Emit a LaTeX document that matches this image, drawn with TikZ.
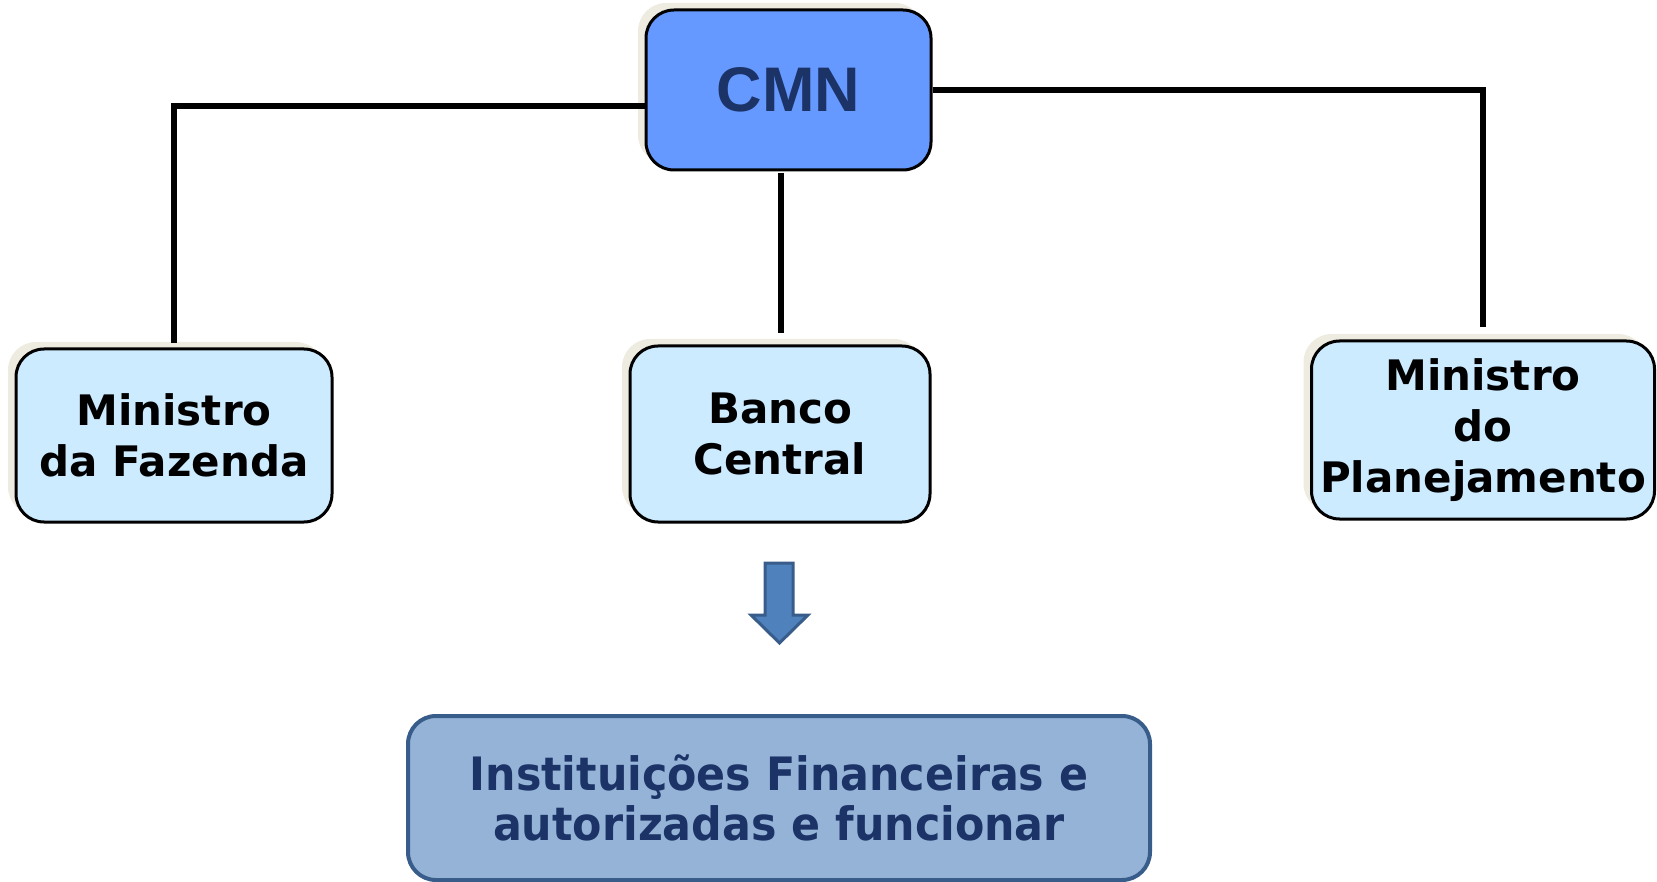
\documentclass[tikz,border=0pt]{standalone}
\usepackage{fontspec}
\setmainfont{DejaVu Sans}
\newfontfamily\cmnfont{Liberation Sans}
\newfontfamily\condfont[FakeStretch=0.93]{DejaVu Sans}
\usetikzlibrary{shadows}
\definecolor{cmnblue}{HTML}{6699FF}
\definecolor{boxblue}{HTML}{CCEBFF}
\definecolor{shadebeige}{HTML}{EEECE1}
\definecolor{navy}{HTML}{1B3366}
\definecolor{instblue}{HTML}{95B3D7}
\definecolor{instedge}{HTML}{385D8A}
\definecolor{arrowblue}{HTML}{4F81BD}
\begin{document}
\begin{tikzpicture}[x=1pt,y=-1pt,
	orgbox/.style={draw=black,line width=3pt,rounded corners=28pt,align=center,inner sep=0pt,
		general shadow={shadow xshift=-8pt,shadow yshift=7pt,fill=shadebeige},
		font=\fontsize{42}{51}\selectfont\bfseries},
	conn/.style={line width=6pt}]
		\useasboundingbox (0,0) rectangle (1657,882);
		\node[orgbox,fill=cmnblue,minimum width=285pt,minimum height=160pt,
			font=\fontsize{63}{70}\selectfont\cmnfont\bfseries,text=navy] (cmn) at (788.5,90) {CMN};
		\node[orgbox,fill=boxblue,minimum width=316pt,minimum height=173pt] (fazenda) at (174,435.5) {Ministro\\da Fazenda};
		\node[orgbox,fill=boxblue,minimum width=300pt,minimum height=176pt] (banco) at (780,434) {Banco\\Central};
		\node[orgbox,fill=boxblue,minimum width=343pt,minimum height=178pt] (plan) at (1483,430) {Ministro\\do\\Planejamento};
		\node[draw=instedge,fill=instblue,line width=4pt,rounded corners=28pt,align=center,
			minimum width=742pt,minimum height=164pt,text=navy,
			font=\fontsize{46}{50}\selectfont\condfont\bfseries] (inst) at (779,798) {Instituições Financeiras e\\autorizadas e funcionar};
		\coordinate (m0) at (781,173);
		\coordinate (m1) at (781,333);
		\draw[conn] ([yshift=-16pt]cmn.west) -| ([yshift=4pt]fazenda.north);
		\draw[conn] (m0) -- (m1);
		\draw[conn] (cmn.east) -| ([yshift=12pt]plan.north);
		% arrow down to the institutions
		\draw[draw=instedge,fill=arrowblue,line width=3pt] (765,563) -- (793,563) -- (793,615) -- (808,615)
			-- (779.5,643) -- (751,615) -- (765,615) -- cycle;
	\end{tikzpicture}
\end{document}
